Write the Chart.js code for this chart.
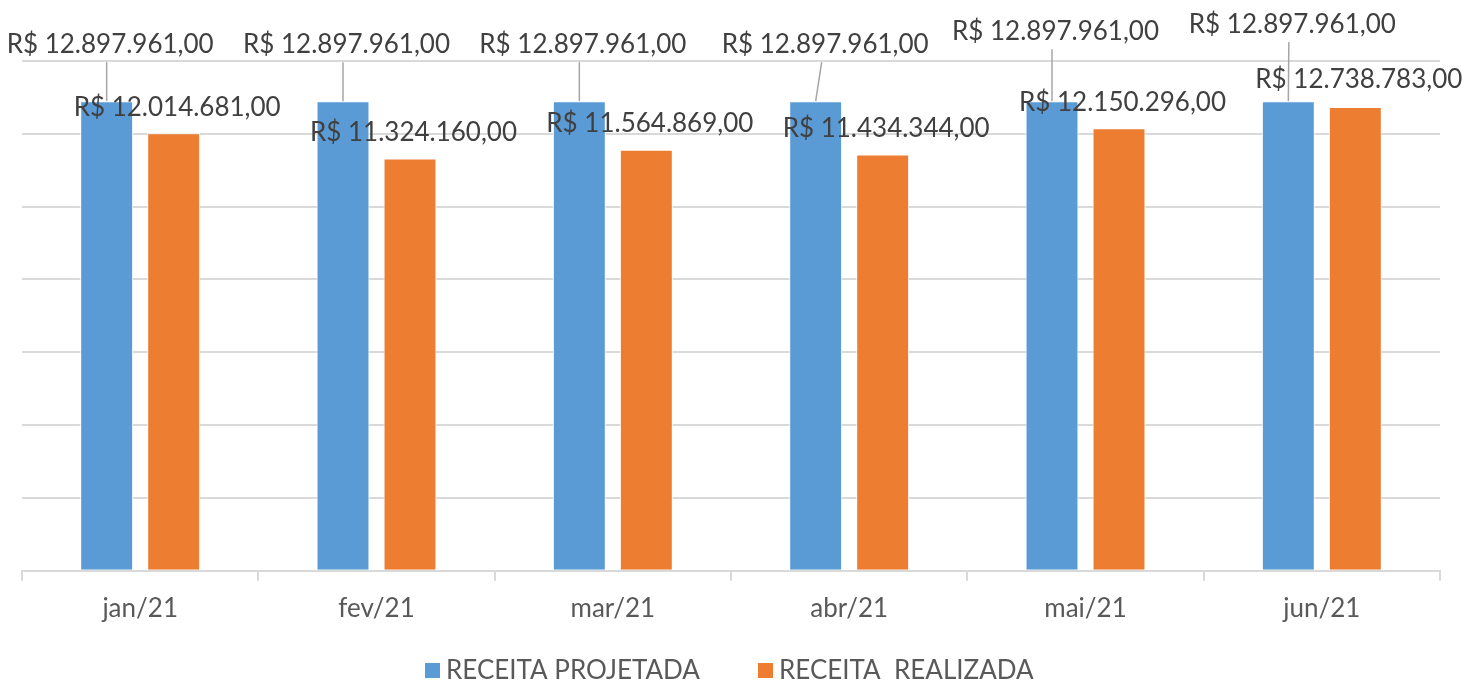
<!DOCTYPE html>
<html>
<head>
<meta charset="utf-8">
<script src="https://cdn.jsdelivr.net/npm/chart.js@4.4.1/dist/chart.umd.min.js"></script>
<style>
html,body{margin:0;padding:0;background:#fff;}
#wrap{width:1478px;height:682px;position:relative;}
</style>
</head>
<body>
<div id="wrap"><canvas id="c" width="1478" height="682"></canvas></div>
<script>
const categories = ['jan/21','fev/21','mar/21','abr/21','mai/21','jun/21'];
const receitaProjetada = [12897961, 12897961, 12897961, 12897961, 12897961, 12897961];
const receitaRealizada = [12014681, 11324160, 11564869, 11434344, 12150296, 12738783];
const seriesNames = ['RECEITA PROJETADA', 'RECEITA  REALIZADA'];
const yTicks = [0, 2000000, 4000000, 6000000, 8000000, 10000000, 12000000, 14000000];

// label placement (pixel offsets from bar top), layout only
const blueLabelDx = [3.5, 3.5, 3.5, 9.5, 3.5, 4];
const blueLabelDy = [-57, -57, -57, -57, -70, -77];
const orangeLabelDx = [3.5, 3.5, 3.5, 3.5, 3.5, 3.5];
const orangeLabelDy = [-26, -26, -26, -26, -26, -27];
// legend item positions (layout only)
const legendBoxX = [425, 758];
const legendTextX = [446, 779];

const FONT = 'Lato, "Open Sans", sans-serif';

function fmtBRL(v){
  const s = Math.round(v).toString().replace(/\B(?=(\d{3})+(?!\d))/g, '.');
  return 'R$ ' + s + ',00';
}

const labelPlugin = {
  id: 'excelLabels',
  afterDatasetsDraw(chart){
    const ctx = chart.ctx;
    ctx.save();
    ctx.font = '26px ' + FONT;
    ctx.textAlign = 'center';
    ctx.textBaseline = 'middle';
    const m0 = chart.getDatasetMeta(0);
    m0.data.forEach((bar, i) => {
      const lx = bar.x + blueLabelDx[i];
      const ly = bar.y + blueLabelDy[i];
      const lineTop = ly + 18;
      if (bar.y - lineTop > 4) {
        ctx.strokeStyle = '#a6a6a6';
        ctx.lineWidth = 1.5;
        ctx.beginPath();
        ctx.moveTo(lx - 3.5, lineTop);
        ctx.lineTo(bar.x, bar.y);
        ctx.stroke();
      }
      ctx.fillStyle = '#404040';
      ctx.fillText(fmtBRL(receitaProjetada[i]), lx, ly);
    });
    const m1 = chart.getDatasetMeta(1);
    m1.data.forEach((bar, i) => {
      ctx.fillStyle = '#404040';
      ctx.fillText(fmtBRL(receitaRealizada[i]), bar.x + orangeLabelDx[i], bar.y + orangeLabelDy[i]);
    });
    ctx.restore();
  },
  afterDraw(chart){
    const ctx = chart.ctx;
    ctx.save();
    ctx.font = '26px ' + FONT;
    ctx.textAlign = 'left';
    ctx.textBaseline = 'middle';
    chart.data.datasets.forEach((ds, i) => {
      ctx.fillStyle = ds.backgroundColor;
      ctx.fillRect(legendBoxX[i], 663, 15, 15);
      ctx.fillStyle = '#595959';
      ctx.fillText(ds.label, legendTextX[i], 671);
    });
    ctx.restore();
  }
};

new Chart(document.getElementById('c'), {
  type: 'bar',
  data: {
    labels: categories,
    datasets: [
      { label: seriesNames[0], data: receitaProjetada, backgroundColor: '#5b9bd5', borderColor: '#ffffff', borderWidth: {left:1,right:1,top:1,bottom:0} },
      { label: seriesNames[1], data: receitaRealizada, backgroundColor: '#ed7d31', borderColor: '#ffffff', borderWidth: {left:1,right:1,top:1,bottom:0} }
    ]
  },
  options: {
    responsive: false,
    animation: false,
    devicePixelRatio: 1,
    datasets: { bar: { categoryPercentage: 0.567, barPercentage: 0.79 } },
    layout: { padding: { top: 61, left: 22, right: 38, bottom: 46 } },
    plugins: {
      legend: { display: false },
      tooltip: { enabled: false }
    },
    scales: {
      x: {
        grid: { display: true, drawOnChartArea: false, drawTicks: true, tickLength: 10, color: '#d9d9d9', lineWidth: 2, offset: true },
        border: { display: true, color: '#d9d9d9', width: 2 },
        ticks: { font: { family: FONT, size: 26 }, color: '#595959', padding: 12 }
      },
      y: {
        min: 0, max: 14000000,
        afterBuildTicks(axis){ axis.ticks = yTicks.map(v => ({ value: v })); },
        grid: { color: '#d9d9d9', lineWidth: 2, drawTicks: false },
        border: { display: false },
        ticks: { display: false }
      }
    }
  },
  plugins: [labelPlugin]
});
</script>
</body>
</html>
